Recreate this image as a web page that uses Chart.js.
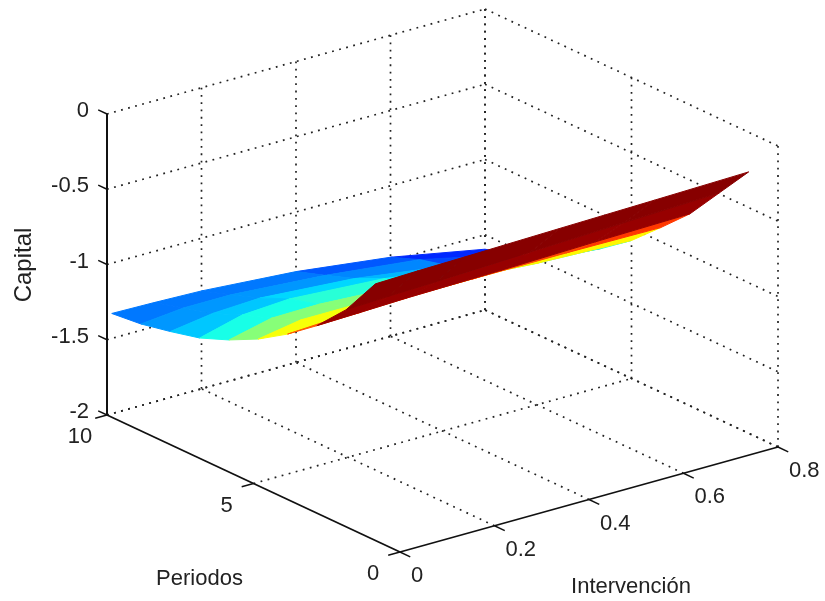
<!DOCTYPE html>
<html>
<head>
<meta charset="utf-8">
<title>Capital</title>
<script src="https://cdn.jsdelivr.net/npm/chart.js@4/dist/chart.umd.min.js"></script>
<style>
    html, body { margin: 0; padding: 0; background: #fff; }
    canvas { display: block; }
</style>
</head>
<body>
<canvas id="myChart" width="825" height="601"></canvas>
<script>
// surface values, one list per period
var interventionValues = [0.01, 0.1, 0.2, 0.4, 0.6, 0.8];
var periodValues = [1, 2, 3, 4, 5, 6, 7, 8, 9, 10];
var capitalPeriod1 = [-0.318, -0.31, -0.304, -0.29, -0.277, -0.263];
var capitalPeriod2 = [-0.581, -0.57, -0.56, -0.537, -0.515, -0.493];
var capitalPeriod3 = [-0.778, -0.77, -0.76, -0.75, -0.735, -0.723];
var capitalPeriod4 = [-0.925, -0.91, -0.9, -0.9, -0.9, -0.906];
var capitalPeriod5 = [-1.049, -1.0, -1.0, -1.015, -1.06, -1.083];
var capitalPeriod6 = [-1.146, -1.08, -1.075, -1.11, -1.17, -1.226];
var capitalPeriod7 = [-1.224, -1.15, -1.13, -1.17, -1.26, -1.344];
var capitalPeriod8 = [-1.272, -1.23, -1.215, -1.26, -1.35, -1.468];
var capitalPeriod9 = [-1.313, -1.285, -1.285, -1.33, -1.4, -1.54];
var capitalPeriod10 = [-1.334, -1.34, -1.35, -1.396, -1.475, -1.596];

var interventionTicks = [0, 0.2, 0.4, 0.6, 0.8];
var periodTicks = [0, 5, 10];
var capitalTicks = [-2, -1.5, -1, -0.5, 0];

var capitalRows = [capitalPeriod1, capitalPeriod2, capitalPeriod3, capitalPeriod4, capitalPeriod5,
    capitalPeriod6, capitalPeriod7, capitalPeriod8, capitalPeriod9, capitalPeriod10];

// where a capital value sits on the jet colormap
var colorCapital = [-1.52, -1.4, -1.285, -1.215, -1.13, -1.075, -1.0, -0.91, -0.76, -0.56, -0.3];
var colorPlace = [0.08, 0.16, 0.24, 0.28, 0.34, 0.41, 0.5, 0.62, 0.8, 0.98, 1];

// view of the 3d box, the page plane is what the chart scales show
function project(intervention, period, capital) {
    return {
        x: 400 + 378 * (intervention / 0.8) - 293 * (period / 10),
        y: 552 - 105 * (intervention / 0.8) - 137 * (period / 10) - 150.5 * (capital + 2)
    };
}

function colorPosition(value) {
    if (value <= colorCapital[0]) return colorPlace[0];
    for (var i = 1; i < colorCapital.length; i++) {
        if (value <= colorCapital[i]) {
            var f = (value - colorCapital[i - 1]) / (colorCapital[i] - colorCapital[i - 1]);
            return colorPlace[i - 1] + f * (colorPlace[i] - colorPlace[i - 1]);
        }
    }
    return 1;
}

// matlab jet, 64 steps
function jet(value) {
    var t = colorPosition(value);
    t = (Math.min(63, Math.floor(t * 64)) + 0.5) / 64;
    function band(c) {
        return Math.round(255 * Math.max(0, Math.min(1, 1.5 - Math.abs(4 * t - c))));
    }
    return 'rgb(' + band(3) + ',' + band(2) + ',' + band(1) + ')';
}

function segment(from, to, color, width, dash) {
    return {
        data: [project.apply(null, from), project.apply(null, to)],
        showLine: true,
        borderColor: color,
        borderWidth: width,
        borderDash: dash || [],
        pointRadius: 0,
        fill: false
    };
}

var dots = [1.8, 5.5];
var dotColor = '#222';
var axisColor = '#111';
var paintOrder = [];

// floor and the two back walls
periodTicks.forEach(function (p) {
    if (p > 0) paintOrder.push(segment([0, p, -2], [0.8, p, -2], dotColor, 1.7, dots));
    paintOrder.push(segment([0.8, p, -2], [0.8, p, 0], dotColor, 1.7, dots));
});
interventionTicks.forEach(function (v) {
    if (v > 0) {
        paintOrder.push(segment([v, 0, -2], [v, 10, -2], dotColor, 1.7, dots));
        paintOrder.push(segment([v, 10, -2], [v, 10, 0], dotColor, 1.7, dots));
    }
});
capitalTicks.forEach(function (c) {
    paintOrder.push(segment([0, 10, c], [0.8, 10, c], dotColor, 1.7, dots));
    paintOrder.push(segment([0.8, 10, c], [0.8, 0, c], dotColor, 1.7, dots));
});

// axes and their ticks
paintOrder.push(segment([0, 0, -2], [0.8, 0, -2], axisColor, 1.8));
paintOrder.push(segment([0, 0, -2], [0, 10, -2], axisColor, 1.8));
paintOrder.push(segment([0, 10, -2], [0, 10, 0], axisColor, 2));
interventionTicks.forEach(function (v) {
    paintOrder.push(segment([v, 0, -2], [v, -0.35, -2], axisColor, 1.4));
});
periodTicks.forEach(function (p) {
    paintOrder.push(segment([0, p, -2], [-0.025, p, -2], axisColor, 1.4));
});
capitalTicks.forEach(function (c) {
    paintOrder.push(segment([0, 10, c], [0, 10.3, c], axisColor, 1.4));
});

// surface faces back to front, the narrow first column shares the colour of the next one
for (var r = periodValues.length - 2; r >= 0; r--) {
    for (var c = interventionValues.length - 2; c >= 0; c--) {
        var color = jet(capitalRows[r][Math.max(c, 1)]);
        paintOrder.push({
            data: [
                project(interventionValues[c], periodValues[r], capitalRows[r][c]),
                project(interventionValues[c + 1], periodValues[r], capitalRows[r][c + 1]),
                project(interventionValues[c + 1], periodValues[r + 1], capitalRows[r + 1][c + 1]),
                project(interventionValues[c], periodValues[r + 1], capitalRows[r + 1][c]),
                project(interventionValues[c], periodValues[r], capitalRows[r][c])
            ],
            showLine: true,
            borderColor: color,
            borderWidth: 1,
            backgroundColor: color,
            pointRadius: 0,
            fill: 'shape'
        });
    }
}

var labelPlugin = {
    id: 'boxLabels',
    afterDraw: function (chart) {
        var ctx = chart.ctx;
        var xs = chart.scales.x;
        var ys = chart.scales.y;

        function put(text, at, dx, dy, align) {
            ctx.textAlign = align;
            ctx.fillText(text, xs.getPixelForValue(at.x) + dx, ys.getPixelForValue(at.y) + dy);
        }

        ctx.save();
        ctx.fillStyle = '#222';
        ctx.textBaseline = 'middle';
        ctx.font = '22px "Liberation Sans"';
        capitalTicks.forEach(function (c) {
            put(String(c), project(0, 10, c), -18, -3, 'right');
        });
        periodTicks.forEach(function (p) {
            put(String(p), project(0, p, -2), -27, 22, 'center');
        });
        interventionTicks.forEach(function (v) {
            put(String(v), project(v, 0, -2), 11, 24, 'left');
        });
        ctx.textAlign = 'center';
        ctx.fillText('Periodos', 199.5, 579);
        ctx.fillText('Intervención', 631, 587);
        ctx.translate(24, 265);
        ctx.rotate(-Math.PI / 2);
        ctx.font = '24px "Liberation Sans"';
        ctx.fillText('Capital', 0, 0);
        ctx.restore();
    }
};

new Chart(document.getElementById('myChart').getContext('2d'), {
    type: 'scatter',
    // chart.js paints the first dataset last
    data: {datasets: paintOrder.slice().reverse()},
    plugins: [labelPlugin],
    options: {
        responsive: false,
        animation: false,
        layout: {padding: 0},
        plugins: {legend: {display: false}, tooltip: {enabled: false}},
        elements: {line: {tension: 0}},
        scales: {
            x: {type: 'linear', display: false, min: 0, max: 825},
            y: {type: 'linear', display: false, reverse: true, min: 0, max: 601}
        }
    }
});
</script>
</body>
</html>
